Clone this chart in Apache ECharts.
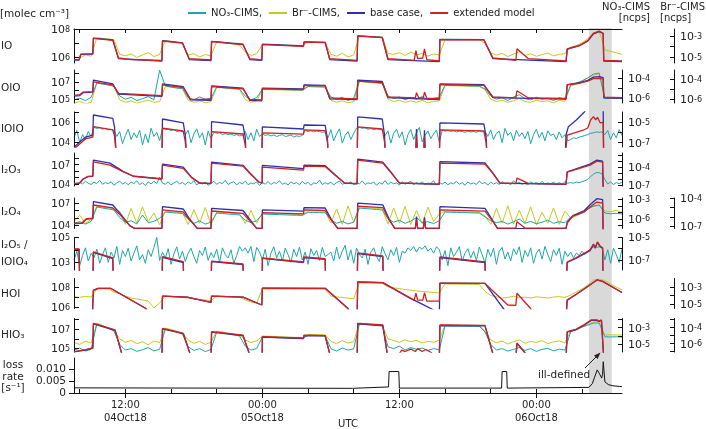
<!DOCTYPE html>
<html><head><meta charset="utf-8">
<script src="https://cdn.jsdelivr.net/npm/echarts@6/dist/echarts.min.js"></script>
<style>html,body{margin:0;padding:0;background:#fff}#c{width:706px;height:429px}</style>
</head><body><div id="c"></div>
<script>
// ---------- time (hours since 04 Oct 2018 00:00 UTC) ----------
const tm = [7.5,8,8.5,9,9.5,10,10.5,11,11.5,12,12.5,13,13.5,14,14.5,15,15.5,16,16.5,17,17.5,18,18.5,19,19.5,20,20.5,21,21.5,22,22.5,23,23.5,24,24.5,25,25.5,26,26.5,27,27.5,28,28.5,29,29.5,30,30.5,31,31.5,32,32.5,33,33.5,34,34.5,35,35.5,36,36.5,37,37.5,38,38.5,39,39.5,40,40.5,41,41.5,42,42.5,43,43.5,44,44.5,45,45.5,46,46.5,47,47.5,48,48.5,49,49.5,50,50.5,51,51.5,52,52.5,53,53.5,54,54.5,55,55.5];
const tq = [7.5,7.75,8,8.25,8.5,8.75,9,9.25,9.5,9.75,10,10.25,10.5,10.75,11,11.25,11.5,11.75,12,12.25,12.5,12.75,13,13.25,13.5,13.75,14,14.25,14.5,14.75,15,15.25,15.5,15.75,16,16.25,16.5,16.75,17,17.25,17.5,17.75,18,18.25,18.5,18.75,19,19.25,19.5,19.75,20,20.25,20.5,20.75,21,21.25,21.5,21.75,22,22.25,22.5,22.75,23,23.25,23.5,23.75,24,24.25,24.5,24.75,25,25.25,25.5,25.75,26,26.25,26.5,26.75,27,27.25,27.5,27.75,28,28.25,28.5,28.75,29,29.25,29.5,29.75,30,30.25,30.5,30.75,31,31.25,31.5,31.75,32,32.25,32.5,32.75,33,33.25,33.5,33.75,34,34.25,34.5,34.75,35,35.25,35.5,35.75,36,36.25,36.5,36.75,37,37.25,37.5,37.75,38,38.25,38.5,38.75,39,39.25,39.5,39.75,40,40.25,40.5,40.75,41,41.25,41.5,41.75,42,42.25,42.5,42.75,43,43.25,43.5,43.75,44,44.25,44.5,44.75,45,45.25,45.5,45.75,46,46.25,46.5,46.75,47,47.25,47.5,47.75,48,48.25,48.5,48.75,49,49.25,49.5,49.75,50,50.25,50.5,50.75,51,51.25,51.5,51.75,52,52.25,52.5,52.75,53,53.25,53.5,53.75,54,54.25,54.5,54.75,55,55.25,55.5];
const xTickHours = [12,24,36,48];
const xTickText = ['12:00\n04Oct18','00:00\n05Oct18','12:00','00:00\n06Oct18'];
const xMinorHours = [8,12,16,20,24,28,32,36,40,44,48,52];
const grayBand = [52.6,54.6];

// ---------- IO ----------
const ioBr = [1.1e-5,8e-6,1.6e-5,1.2e-5,7e-4,6e-4,5.2e-4,4.5e-4,1.8e-5,1.3e-5,
2e-5,9e-6,1.6e-5,2.6e-5,1.1e-5,1.8e-5,3.8e-4,3.2e-4,2.7e-4,2.2e-4,
1.6e-5,2.1e-5,1e-5,1.7e-5,1.3e-5,2.9e-4,2.5e-4,2.1e-4,1.7e-4,1.4e-4,
3e-5,1.4e-5,2.1e-5,1.55e-4,1.5e-4,1.45e-4,1.4e-4,1.35e-4,1.3e-4,1.25e-4,
1.2e-4,2.9e-4,2.8e-4,2.7e-4,2.6e-4,1.8e-5,1.2e-5,2.3e-5,1e-5,1.6e-5,
1e-3,9.5e-4,9e-4,8.5e-4,8e-4,2.2e-5,1.8e-5,2.6e-5,1.4e-5,3e-5,
1.6e-5,2.2e-5,1.2e-5,2e-5,1.5e-5,4.8e-4,4.7e-4,4.6e-4,4.6e-4,4.5e-4,
4.5e-4,4.4e-4,2e-4,2.5e-5,1.5e-5,2.2e-5,1.1e-5,1.9e-5,3.2e-5,1.4e-5,
2e-5,1.2e-5,1.7e-5,2.4e-5,1.3e-5,1.8e-5,2.1e-5,9e-5,1.2e-4,2.2e-4,
5.5e-4,2e-3,3e-3,4.7e-5,3.5e-5,2.5e-5,1.8e-5];
const ioExt = [[7.5,7e5],[7.95,7e5],[8.1,1.7e6],[9.15,1.8e6],[9.2,2.2e7],[10.9,1.6e7],[11.4,9e5],[12.5,7e5],[15.2,6e5],[15.25,1.4e7],[17.0,1.0e7],[17.6,8e5],[19.5,6.5e5],[19.55,1.3e7],[22.3,8e6],[22.9,8e5],[23.95,6.5e5],[24.0,8e6],[27.6,6e6],[27.65,1.2e7],[29.5,1.1e7],[29.9,8e5],[32.3,6e5],[32.35,3.2e7],[34.5,2.5e7],[35.0,8e5],[37.3,6e5],[37.45,3e6],[37.6,8e5],[38.05,9e5],[38.2,4e6],[38.4,7e5],[39.5,5.5e5],[39.55,1.8e7],[43.4,1.7e7],[44.2,9e5],[46.2,6e5],[46.3,4e6],[47.3,8e5],[50.6,5.5e5],[50.7,4e6],[51.8,7e6],[52.5,1.5e7],[53.0,5e7],[53.5,7e7],[53.85,5e7],[53.9,6e5],[55.5,5.5e5]];
const ioBase = [[7.5,6.5e5],[7.95,6.5e5],[8.1,1.6e6],[9.15,1.7e6],[9.2,2.3e7],[10.9,1.7e7],[11.4,8e5],[15.2,5.5e5],[15.25,1.5e7],[17.0,1.05e7],[17.6,7e5],[19.5,6e5],[19.55,1.35e7],[22.3,8.5e6],[22.9,7e5],[23.95,6e5],[24.0,8.5e6],[27.6,6.3e6],[27.65,1.25e7],[29.5,1.15e7],[29.9,7e5],[32.3,5.5e5],[32.35,3.3e7],[34.5,2.6e7],[35.0,7e5],[39.5,5e5],[39.55,1.85e7],[43.4,1.75e7],[44.2,8e5],[50.6,5e5],[50.7,3.8e6],[51.8,6.8e6],[52.5,1.4e7],[53.0,4.5e7],[53.5,6.5e7],[53.85,4.8e7],[53.9,5.5e5],[55.5,5e5]];

// ---------- OIO ----------
const oioNO3 = [6e-7,9e-7,5e-7,1.1e-6,3.3e-5,2.6e-5,2e-5,1.6e-5,1.5e-6,7e-7,
1.1e-6,5e-7,8e-7,1.3e-6,6e-7,7e-4,1.6e-5,1.25e-5,1e-5,8.9e-6,
1e-6,6e-7,1.2e-6,7e-7,9e-7,1.25e-5,1.1e-5,1e-5,8.9e-6,7.8e-6,
1.4e-6,6e-7,1e-6,7.8e-6,7.5e-6,7.2e-6,7e-6,6.8e-6,6.5e-6,6.3e-6,
6.2e-6,1.4e-5,1.35e-5,1.3e-5,1.25e-5,1.2e-6,7e-7,1.1e-6,5e-7,9e-7,
5.3e-5,4.7e-5,4.2e-5,3.7e-5,3.3e-5,1.5e-6,8e-7,1.2e-6,6e-7,1e-6,
7e-7,1.3e-6,6e-7,9e-7,1.1e-6,2e-5,1.9e-5,1.85e-5,1.8e-5,1.7e-5,
1.65e-5,1.6e-5,8e-6,1.5e-6,7e-7,1e-6,5e-7,1.2e-6,2e-6,8e-7,
6e-7,1.1e-6,7e-7,9e-7,5e-7,1e-6,7e-7,2e-5,3.3e-5,5.3e-5,
1.1e-4,2.8e-4,3.5e-4,8.5e-7,9e-7,8e-7,8.5e-7];
const oioBr = [4e-7,6e-7,3.5e-7,5e-7,4.3e-5,3.4e-5,2.7e-5,2.1e-5,9e-7,5e-7,
7e-7,4e-7,6e-7,8e-7,5e-7,6e-7,1.9e-5,1.7e-5,1.35e-5,1.1e-5,
8e-7,5e-7,7e-7,4.5e-7,6e-7,1.55e-5,1.4e-5,1.2e-5,1.1e-5,1e-5,
9e-7,5e-7,7e-7,9.5e-6,9.2e-6,9e-6,8.7e-6,8.5e-6,8.2e-6,8e-6,
7.8e-6,1.9e-5,1.85e-5,1.8e-5,1.75e-5,8e-7,5e-7,7e-7,4.5e-7,6e-7,
6e-5,5.4e-5,4.8e-5,4.3e-5,3.8e-5,1e-6,6e-7,8e-7,5e-7,7e-7,
5e-7,8e-7,4.5e-7,6e-7,7e-7,2.4e-5,2.3e-5,2.2e-5,2.1e-5,2e-5,
1.95e-5,1.9e-5,9e-6,1e-6,6e-7,8e-7,5e-7,7e-7,1.2e-6,6e-7,
5e-7,8e-7,6e-7,7e-7,4.5e-7,8e-7,6e-7,2.1e-5,3.4e-5,6.8e-5,
1.35e-4,2.7e-4,3.4e-4,1.4e-6,1.2e-6,1.3e-6,1.1e-6];
const oioExt = [[7.5,3e5],[8.0,3.5e5],[8.3,7e5],[9.15,8e5],[9.2,1.0e7],[10.9,4.5e6],[11.4,5e5],[15.2,2.7e5],[15.25,4.5e6],[17.07,2.3e6],[17.7,1.1e5],[19.5,1e5],[19.55,3e6],[22.3,1.6e6],[22.9,1e5],[23.95,9e4],[24.0,1.7e6],[27.6,1.3e6],[27.65,4e6],[29.5,3.5e6],[29.9,1.5e5],[32.3,1.2e5],[32.35,1.2e7],[34.5,8e6],[35.0,2e5],[37.4,1.5e5],[37.5,6e5],[37.7,1.5e5],[38.1,1.6e5],[38.2,7e5],[38.4,1.4e5],[39.5,1.2e5],[39.55,5e6],[43.4,4e6],[44.2,2e5],[46.2,1.5e5],[46.3,1e6],[47.3,1.5e5],[50.6,1.3e5],[50.7,4.5e6],[51.8,7e6],[52.5,1.2e7],[53.0,2.3e7],[53.5,2.5e7],[53.85,2e7],[53.9,1.8e5],[55.5,1.6e5]];
const oioBase = [[7.5,2.5e5],[8.0,2.8e5],[8.3,6e5],[9.15,7e5],[9.2,1.6e7],[10.9,6e6],[11.4,4e5],[15.2,2.2e5],[15.25,5.8e6],[17.07,2.8e6],[17.7,9e4],[19.5,8e4],[19.55,3.4e6],[22.3,2e6],[22.9,8e4],[23.95,7e4],[24.0,2e6],[27.6,1.6e6],[27.65,4.5e6],[29.5,4e6],[29.9,1.2e5],[32.3,1e5],[32.35,1.6e7],[34.5,1.1e7],[35.0,1.6e5],[39.5,1e5],[39.55,5.8e6],[43.4,5e6],[44.2,1.6e5],[50.6,1.1e5],[50.7,5e6],[51.8,8e6],[52.5,1.5e7],[53.0,3.5e7],[53.5,4e7],[53.85,3e7],[53.9,1.5e5],[55.5,1.4e5]];

// ---------- IOIO (NO3-CIMS sampled every 15 min) ----------
const ioioNO3 = [3e-7,1.5e-6,1e-7,6e-7,2e-7,1.2e-6,4e-7,3e-6,2.4e-6,2.8e-6,
2e-6,2.5e-6,1.7e-6,2e-6,1.5e-6,4e-7,1.2e-6,8e-8,5e-7,2e-6,
2e-7,9e-7,3e-7,1.6e-6,6e-8,7e-7,1e-7,2.5e-6,4e-7,1e-6,
1.5e-7,2.4e-6,1.8e-6,2e-6,1.5e-6,1.8e-6,1.2e-6,1.4e-6,1.1e-6,6e-7,
1.6e-6,1e-7,7e-7,2.2e-6,3e-7,9e-7,6e-8,1.3e-6,2.5e-7,1e-6,
8e-7,9e-7,6e-7,7.5e-7,6e-7,7e-7,5e-7,6e-7,4.5e-7,5e-7,
1.3e-6,2e-7,9e-7,1.5e-7,2e-6,4e-7,7e-7,5e-7,6e-7,4.5e-7,
5.5e-7,4e-7,5e-7,6e-7,4e-7,4.5e-7,5.5e-7,3.5e-7,4.5e-7,4e-7,
5e-7,1.5e-6,1.2e-6,1.4e-6,1.1e-6,1.3e-6,1.2e-6,1e-6,1.1e-6,3e-7,
1.8e-6,1.5e-7,7e-7,2.2e-6,9e-8,5e-7,1.2e-6,2e-7,8e-7,2.6e-6,
3e-6,2.5e-6,2.7e-6,2e-6,2.3e-6,1.8e-6,2.2e-6,1.9e-6,1.7e-6,5e-7,
1.4e-6,9e-8,8e-7,2e-6,3e-7,1.1e-6,6e-8,6e-7,1.9e-6,2e-7,
9e-7,3e-6,1.2e-7,5e-7,1.4e-6,2.5e-7,7e-7,1.7e-6,1e-7,1.6e-6,
1.3e-6,1.5e-6,1.2e-6,1.4e-6,1.1e-6,1.3e-6,1.2e-6,1e-6,1.3e-6,1.1e-6,
1.2e-6,1e-6,1.3e-6,1.1e-6,1.2e-6,4e-7,1.7e-6,2e-7,8e-7,1.3e-6,
1e-7,2.4e-6,5e-7,1e-6,1.5e-7,1.6e-6,4e-7,9e-7,2.5e-7,1.2e-6,
8e-8,6e-7,2e-6,3e-7,1e-6,1.5e-7,1.4e-6,5e-7,7e-7,2e-7,
1.1e-6,3e-7,6e-7,1.5e-7,2e-7,3e-7,2.5e-7,3.5e-7,4e-7,5e-7,
6e-7,8e-7,9e-7,1.1e-6,1e-6,1.1e-6,6e-7,1.5e-6,2e-7,9e-7,
3e-7,1.8e-6,5e-7];
const ioioExt = [[7.5,2e3],[8.5,2e4],[9.15,3e4],[9.2,3.4e5],[10.9,1.6e5],[11.05,4e4],[11.25,1e2],[15.2,1e2],[15.25,2.5e5],[17.07,1.26e5],[17.25,1e4],[17.4,1e2],[19.5,1e2],[19.55,1.07e5],[22.3,6.3e4],[22.5,5e3],[22.6,1e2],[23.95,1e2],[24.0,8e4],[27.6,6e4],[27.65,1.6e5],[29.5,1.4e5],[29.7,1e4],[29.8,1e2],[32.3,1e2],[32.35,3.2e5],[34.5,2e5],[34.7,1e4],[34.8,1e2],[37.4,1e2],[37.5,5e4],[37.6,1e2],[38.1,1e2],[38.2,4e4],[38.3,1e2],[39.5,1e2],[39.55,1.6e5],[43.4,1.3e5],[43.6,8e3],[43.7,1e2],[50.5,1e2],[50.7,5e4],[52.1,1.5e5],[52.5,2.5e5],[52.75,1.6e6],[53.0,3.4e6],[53.2,1.6e6],[53.35,3e6],[53.6,8e5],[53.85,9e5],[53.9,1e2],[55.5,1e2]];
const ioioBase = [[7.5,3e3],[8.0,1e4],[8.5,3e4],[9.15,5e4],[9.2,5e6],[10.9,2.3e6],[11.05,3e5],[11.25,1e2],[15.2,1e2],[15.25,2e6],[17.07,8e5],[17.25,5e4],[17.4,1e2],[19.5,1e2],[19.55,1.07e6],[22.3,5e5],[22.5,3e4],[22.6,1e2],[23.95,1e2],[24.0,3.2e5],[27.6,2e5],[27.65,5e5],[29.5,4.5e5],[29.7,2e4],[29.8,1e2],[32.3,1e2],[32.35,3.2e6],[34.5,2e6],[34.7,5e4],[34.8,1e2],[37.4,1e2],[37.5,2e5],[37.6,1e2],[38.1,1e2],[38.2,1.5e5],[38.3,1e2],[39.5,1e2],[39.55,8e5],[43.4,6.3e5],[43.6,3e4],[43.7,1e2],[50.5,1e2],[50.6,5e4],[50.8,3.4e5],[51.5,1.6e6],[52.2,1e7],[52.5,3e7],[53.85,3e7],[53.9,1e2],[55.5,1e2]];

// ---------- I2O3 (NO3-CIMS every 15 min) ----------
const i2o3NO3 = [2e-7,1e-7,3e-7,1.5e-7,4e-7,2e-7,1.2e-7,3e-7,1.8e-7,6e-7,
1.3e-7,2.5e-7,1.6e-7,3.5e-7,9e-8,2.2e-7,4.5e-7,1.4e-7,2.8e-7,1.1e-7,
3e-7,1.7e-7,5e-7,1.2e-7,2.4e-7,8e-8,3.2e-7,1.5e-7,4e-7,1.8e-7,
1.9e-6,2e-7,1.3e-7,3.5e-7,1e-7,2.2e-7,4.2e-7,1.5e-7,2.7e-7,1.1e-7,
3.3e-7,1.6e-7,5.5e-7,1e-7,2.5e-7,1.4e-7,3e-7,9e-8,2e-7,4e-7,
1.3e-7,2.6e-7,1.7e-7,6e-7,1.2e-7,2.3e-7,3.6e-7,1e-7,2.8e-7,1.5e-7,
4.5e-7,1.1e-7,2.2e-7,1.6e-7,3.2e-7,8e-8,2.4e-7,1.4e-7,3.8e-7,1.2e-7,
2.6e-7,1.8e-7,5e-7,1.3e-7,2.2e-7,1e-7,3.4e-7,1.6e-7,2.5e-7,1.1e-7,
4e-7,1.5e-7,2.8e-7,9e-8,2.2e-7,1.7e-7,6.5e-7,1.2e-7,2.4e-7,1.4e-7,
3e-7,1e-7,2.6e-7,4.4e-7,1.3e-7,2e-7,1.6e-7,3.5e-7,1.1e-7,2.7e-7,
1.5e-7,4.8e-7,1.2e-7,2.3e-7,1.7e-7,3.1e-7,9e-8,2.5e-7,1.4e-7,5.5e-7,
1.2e-7,2.9e-7,1.6e-7,2.2e-7,1e-7,3.6e-7,1.3e-7,2.4e-7,4.2e-7,1.1e-7,
2.6e-7,1.5e-7,3.3e-7,1.2e-7,2e-7,1.8e-7,5e-7,1e-7,2.7e-7,1.4e-7,
3e-7,1.1e-7,2.3e-7,1.6e-7,4e-7,1.3e-7,2.5e-7,9e-8,3.2e-7,1.5e-7,
2.2e-7,1.2e-7,4.6e-7,1.7e-7,2.6e-7,1e-7,3e-7,1.4e-7,2.4e-7,1.2e-7,
3.7e-7,1.5e-7,2.1e-7,1.1e-7,5.2e-7,1.6e-7,2.8e-7,1.3e-7,2.3e-7,1e-7,
3.4e-7,1.8e-7,2.5e-7,1.2e-7,4.3e-7,1.4e-7,2.2e-7,1.6e-7,3e-7,1.1e-7,
2.6e-7,1.3e-7,3.5e-7,2e-7,2.5e-7,2e-7,3e-7,2.5e-7,3.5e-7,5e-7,
9e-7,2.5e-6,6e-6,1.2e-5,1.1e-5,7e-6,8e-7,1.5e-7,3e-7,1.2e-7,
2.5e-7,1.6e-7,3.2e-7];
const i2o3Ext = [[7.5,1.2e4],[8.0,1.5e4],[8.3,6e4],[8.7,1.5e5],[9.15,1.7e5],[9.2,2.7e7],[10.65,8.5e6],[11.8,8e5],[12.7,1.7e5],[15.2,6.6e4],[15.25,8.5e6],[17.07,2.6e6],[17.8,1e5],[18.5,1.5e4],[19.5,1.3e4],[19.55,1.7e7],[22.3,6e6],[23.0,3e5],[23.7,2e4],[23.98,1.5e4],[24.0,4.2e6],[27.6,1.45e6],[27.65,6e6],[29.5,5e6],[30.3,3e5],[31.2,1.5e4],[32.3,1.2e4],[32.35,5e7],[34.55,1.7e7],[35.3,5e5],[36.0,1.5e4],[39.5,1e4],[39.55,1.7e7],[43.5,1.2e7],[44.2,4e5],[44.8,1.5e4],[46.2,1.2e4],[46.3,8.5e4],[47.3,1.3e4],[50.6,1e4],[50.7,7e5],[52.7,8.5e6],[53.3,3.5e7],[53.8,2.5e7],[53.85,1e3],[55.5,1e3]];
const i2o3Base = [[7.5,1.1e4],[8.0,1.4e4],[8.3,5.5e4],[8.7,1.4e5],[9.15,1.6e5],[9.2,5e7],[10.65,1.7e7],[11.8,9e5],[12.7,1.6e5],[15.2,6e4],[15.25,1.2e7],[17.07,4.2e6],[17.8,1.1e5],[18.5,1.4e4],[19.5,1.2e4],[19.55,2.5e7],[22.3,8e6],[23.0,3.5e5],[23.7,2e4],[23.98,1.4e4],[24.0,8e6],[27.6,2.5e6],[27.65,8e6],[29.5,7e6],[30.3,3.5e5],[31.2,1.4e4],[32.3,1.1e4],[32.35,7e7],[34.55,2.5e7],[35.3,6e5],[36.0,1.4e4],[39.5,9e3],[39.55,3e7],[43.5,1.8e7],[44.2,5e5],[44.8,1.4e4],[50.6,9e3],[50.7,8e5],[52.7,1.2e7],[53.3,5e7],[53.8,3.5e7],[53.85,1e3],[55.5,1e3]];

// ---------- I2O4 ----------
const i2o4NO3 = [2e-7,3.5e-7,1.5e-7,4e-7,6.5e-5,4.5e-5,3.2e-5,2.2e-5,1.5e-6,3e-7,
5e-7,1.6e-7,3.8e-6,2.5e-7,4e-7,1.2e-6,1.1e-5,9e-6,7.6e-6,6.5e-6,
8e-7,2e-7,4.5e-7,1.5e-7,3e-7,7.6e-6,6.5e-6,5.4e-6,4.6e-6,3.8e-6,
6e-7,2.5e-7,5e-7,5.4e-6,5e-6,4.6e-6,4.3e-6,4e-6,3.7e-6,3.5e-6,
3.3e-6,1e-5,9.5e-6,9e-6,8.5e-6,7e-7,2e-7,4e-7,1.6e-7,3e-7,
4.5e-5,3.8e-5,3.2e-5,2.7e-5,2.2e-5,1e-6,3e-7,6e-7,2e-7,4.5e-7,
1.5e-6,2.5e-7,3.5e-7,1.8e-7,5e-7,1.1e-5,1e-5,9.5e-6,9e-6,8.5e-6,
8e-6,7.6e-6,2e-6,5e-7,2.5e-7,4e-7,1.5e-7,3.5e-7,9e-7,2e-7,
4e-7,1.7e-7,3e-7,6e-7,2e-7,3.5e-7,2.5e-7,1.9e-6,3.8e-6,7.6e-6,
3.2e-5,9e-5,1.3e-4,7.6e-6,6e-6,7e-6,5.5e-6];
const i2o4Br = [3e-7,1.5e-6,2e-7,5e-7,1.4e-5,1.1e-5,9e-6,7e-6,4e-6,1.5e-7,
8e-6,2e-7,1.2e-5,3e-7,2.5e-6,1.4e-7,4e-6,3.5e-6,3e-6,2.6e-6,
1.5e-7,6e-6,2e-7,1e-5,1.3e-7,3.3e-6,3e-6,2.6e-6,2.3e-6,2e-6,
1.8e-7,5e-6,2e-7,2.6e-6,2.4e-6,2.2e-6,2.1e-6,2e-6,1.9e-6,1.8e-6,
1.6e-6,4.5e-6,4.4e-6,4.3e-6,4.2e-6,2e-7,7e-6,1.5e-7,1.5e-5,2.5e-7,
1.2e-5,1e-5,9e-6,8e-6,7e-6,1.6e-7,9e-6,2e-7,1.3e-5,1.4e-7,
5e-6,1.8e-7,1.1e-5,3e-7,2e-6,4e-6,3.8e-6,3.6e-6,3.4e-6,3.2e-6,
3.1e-6,3e-6,1.2e-6,1.5e-7,8e-6,2e-7,1.5e-5,1.6e-7,5e-6,2e-7,
1.2e-5,1.4e-7,3e-6,2e-7,9e-6,1.5e-7,4e-6,7.4e-7,1.2e-6,2.6e-6,
7e-6,1.4e-5,1.9e-5,4.3e-6,3.5e-6,5e-6,3e-6];
const i2o4Ext = [[7.5,1.8e4],[8.2,2e4],[8.6,8e4],[9.15,9e4],[9.2,5.6e6],[10.9,2.2e6],[11.6,2e5],[12.4,8e3],[12.8,4e3],[15.2,4e3],[15.25,1.2e6],[17.07,6.3e5],[17.6,6e4],[18.3,4e3],[19.5,4e3],[19.55,8.5e5],[22.3,4e5],[22.9,4e4],[23.5,4e3],[23.98,4e3],[24.0,5e5],[27.6,3.5e5],[27.65,1.2e6],[29.5,1e6],[30.0,6e4],[30.6,4e3],[32.3,4e3],[32.35,4e6],[34.55,2.5e6],[35.1,5e4],[35.6,4e3],[37.4,4e3],[37.5,6e4],[37.6,4e3],[38.1,4e3],[38.2,5e4],[38.3,4e3],[39.5,4e3],[39.55,1.2e6],[43.5,8e5],[44.1,5e4],[44.6,4e3],[46.2,4e3],[46.3,3e4],[47.0,4e3],[50.6,4e3],[50.7,2e4],[51.2,1.7e5],[52.2,6.3e5],[52.7,3e6],[53.3,1.4e7],[53.8,1e7],[53.85,1e3],[55.5,1e3]];
const i2o4Base = [[7.5,1.6e4],[8.2,1.8e4],[8.6,7e4],[9.15,8e4],[9.2,1.6e7],[10.9,5.6e6],[11.6,3e5],[12.4,8e3],[12.8,3.5e3],[15.2,3.5e3],[15.25,3.3e6],[17.07,1.6e6],[17.6,8e4],[18.3,3.5e3],[19.5,3.5e3],[19.55,2e6],[22.3,1e6],[22.9,6e4],[23.5,3.5e3],[23.98,3.5e3],[24.0,1.2e6],[27.6,8e5],[27.65,2.5e6],[29.5,2.2e6],[30.0,8e4],[30.6,3.5e3],[32.3,3.5e3],[32.35,1e7],[34.55,6e6],[35.1,7e4],[35.6,3.5e3],[37.4,3.5e3],[37.5,1.5e5],[37.6,3.5e3],[38.1,3.5e3],[38.2,1.2e5],[38.3,3.5e3],[39.5,3.5e3],[39.55,3.3e6],[43.5,2e6],[44.1,7e4],[44.6,3.5e3],[50.6,3.5e3],[50.7,2.5e4],[51.2,2e5],[52.2,1e6],[52.7,6e6],[53.3,4e7],[53.8,3e7],[53.85,1e3],[55.5,1e3]];

// ---------- I2O5 / IOIO4 (NO3-CIMS every 15 min) ----------
const i2o5NO3 = [1e-7,6e-7,3e-8,2.5e-7,1.2e-6,8e-8,4e-7,1.5e-7,9e-7,5e-8,
3e-7,1.2e-6,6e-8,5e-7,1.5e-7,1.6e-6,4e-8,7e-7,2e-7,1.1e-6,
8e-8,4e-7,1.8e-6,1e-7,3e-7,5e-8,8e-7,2e-7,1.3e-6,1e-5,
9e-8,5e-7,1.5e-7,1e-6,4e-8,3.5e-7,1.5e-6,1.2e-7,6e-7,7e-8,
4e-7,1.1e-6,2e-7,5e-8,7e-7,2.5e-7,1.4e-6,9e-8,4.5e-7,1.6e-7,
9e-7,6e-8,1.2e-6,3e-7,1.5e-7,8e-7,5e-8,2.5e-7,1.6e-6,6e-7,
1.2e-6,4e-7,1.6e-6,7e-8,1.3e-6,5e-7,1e-7,9e-7,3e-8,4e-7,
1.5e-6,1.5e-7,6e-7,8e-8,1.1e-6,3e-7,6e-8,9e-7,2e-7,1.4e-6,
1e-7,5e-7,4e-8,1e-6,2.5e-7,7e-7,9e-8,1.3e-6,2e-7,3e-7,
5e-7,8e-8,1.4e-6,1.2e-7,6e-7,2e-6,1e-7,8e-7,5e-8,1.1e-6,
3e-7,1.5e-7,9e-7,4e-8,5e-7,1.2e-6,2e-7,7e-8,1.5e-6,3.5e-7,
1e-7,8e-7,2.5e-7,1.3e-6,6e-8,6e-7,4e-7,1.2e-6,7e-7,1.6e-6,
5e-7,1.4e-6,9e-7,1.8e-6,6e-7,1.1e-6,4e-7,1.5e-6,8e-7,1e-7,
7e-7,3e-8,1.2e-6,2e-7,5e-7,1.5e-6,8e-8,4e-7,1e-6,1.5e-7,
6e-7,9e-8,1.4e-6,3e-7,5e-8,9e-7,2e-7,1.1e-6,4e-8,6e-7,
1.3e-6,1.2e-7,5e-7,8e-8,1e-6,3e-7,1.5e-6,6e-8,7e-7,2e-7,
1.2e-6,5e-8,4e-7,9e-7,1.2e-7,1.6e-6,3e-7,7e-8,8e-7,2.5e-7,
1.1e-6,4e-8,6e-7,2e-7,5e-7,1.5e-7,4e-7,2.5e-7,6e-7,3e-7,
6e-7,1e-6,1.4e-6,1.3e-6,1.5e-6,1.2e-6,1e-7,8e-7,5e-8,1.1e-6,
3e-7,6e-8,9e-7];
const i2o5Ext = [[7.5,1.2e4],[7.95,1.2e4],[8.0,10],[9.15,10],[9.2,7.2e3],[10.9,2.3e3],[10.95,10],[15.2,10],[15.25,2.9e3],[17.07,1.15e3],[17.12,10],[19.5,10],[19.55,1.3e3],[22.3,760],[22.35,10],[23.98,10],[24.0,2.3e3],[27.6,1.1e3],[27.65,2.8e3],[29.5,2e3],[29.55,10],[32.3,10],[32.35,5.8e3],[34.55,3.3e3],[34.6,10],[39.5,10],[39.55,2.8e3],[43.5,1.1e3],[43.55,10],[50.6,10],[50.7,1.1e3],[51.5,2.5e3],[52.7,1e4],[53.0,3e4],[53.15,1.5e4],[53.35,4.4e4],[53.6,2e4],[53.8,1.5e4],[53.85,10],[55.5,10]];
const i2o5Base = [[7.5,1.1e4],[7.95,1.1e4],[8.0,10],[9.15,10],[9.2,6.5e3],[10.9,2e3],[10.95,10],[15.2,10],[15.25,2.6e3],[17.07,1e3],[17.12,10],[19.5,10],[19.55,1.2e3],[22.3,680],[22.35,10],[23.98,10],[24.0,2.1e3],[27.6,1e3],[27.65,2.5e3],[29.5,1.8e3],[29.55,10],[32.3,10],[32.35,5.2e3],[34.55,3e3],[34.6,10],[39.5,10],[39.55,2.5e3],[43.5,1e3],[43.55,10],[50.6,10],[50.7,1e3],[51.5,2.2e3],[52.7,9e3],[53.0,2.7e4],[53.15,1.4e4],[53.35,4e4],[53.6,1.8e4],[53.8,1.4e4],[53.85,10],[55.5,10]];

// ---------- HOI ----------
const hoiBr = [7e-5,6e-5,8e-5,6.5e-5,5.8e-4,5.9e-4,5.7e-4,2.6e-4,1.5e-4,8.7e-5,
5.1e-5,3.9e-5,3e-5,2.2e-5,3.5e-6,1.3e-5,8.7e-5,7.6e-5,6.6e-5,5.8e-5,
5e-5,3.9e-5,3.4e-5,3e-5,2.6e-5,8.7e-5,8e-5,7.6e-5,7e-5,6.6e-5,
3e-5,1.7e-5,1.3e-5,5.8e-4,5.9e-4,5.7e-4,5.8e-4,5.6e-4,5.7e-4,5.5e-4,
5.6e-4,5.5e-4,5.4e-4,5.5e-4,5.3e-4,8.7e-5,7e-5,5.8e-5,5e-5,4.2e-5,
3e-3,2.9e-3,2.8e-3,2.8e-3,2.7e-3,1e-3,8e-4,6.5e-4,5e-4,4.2e-4,
3.5e-4,3e-4,2.6e-4,2.3e-4,2e-4,2.3e-3,2.2e-3,2.2e-3,2.1e-3,2.1e-3,
2e-3,2e-3,3e-4,1e-4,7e-5,5e-5,6e-5,8e-5,5.5e-5,6.5e-5,
5e-5,7e-5,6e-5,5e-5,6.5e-5,7.5e-5,6e-5,1.1e-4,2.6e-4,5.8e-4,
1.7e-3,6.6e-3,8.6e-3,5.8e-3,2.2e-3,1e-3,4.5e-4];
const hoiExt = [[7.5,1e5],[9.1,1e5],[9.2,5e7],[9.6,8e7],[10.7,8e7],[13.8,7e5],[14.0,1e5],[15.2,1e5],[15.25,1.3e7],[17.4,1e7],[19.5,3e6],[19.55,1.3e7],[22.3,1e7],[23.95,1.6e6],[24.0,8.5e7],[29.5,8e7],[31.5,7e5],[31.7,1e5],[32.3,1e5],[32.35,3.5e8],[34.55,3e8],[37.3,5e6],[37.45,2.5e7],[37.6,5e6],[38.05,5e6],[38.2,2.8e7],[38.4,4e6],[39.5,4e6],[39.55,2.7e8],[43.5,2.5e8],[45.5,1.6e6],[46.2,1.5e6],[46.3,2.5e7],[47.5,7e5],[47.7,1e5],[50.6,1e5],[50.7,5e6],[51.5,2e7],[52.5,1.2e8],[53.3,5.6e8],[53.8,4e8],[55.5,3e7]];
const hoiBase = [[7.5,1e5],[9.1,1e5],[9.2,5e7],[9.6,8e7],[10.7,8e7],[13.8,7e5],[14.0,1e5],[15.2,1e5],[15.25,1.3e7],[17.4,1e7],[19.5,3e6],[19.55,1.3e7],[22.3,1e7],[23.95,1.6e6],[24.0,8.5e7],[29.5,8e7],[31.5,7e5],[31.7,1e5],[32.3,1e5],[32.35,3.5e8],[34.55,3e8],[37.0,7e6],[38.0,2e6],[39.0,5e5],[39.5,2e5],[39.55,2.7e8],[43.5,2.5e8],[45.2,5e5],[45.5,1e5],[50.6,1e5],[50.7,5e6],[51.5,2e7],[52.5,1.2e8],[53.3,5.6e8],[53.8,4e8],[55.5,3e7]];

// ---------- HIO3 ----------
const hio3NO3 = [2e-6,3.5e-6,1.5e-6,2.5e-6,2.8e-3,1.6e-3,7.9e-4,4e-4,1e-5,2e-6,
3e-6,1.4e-6,2.2e-6,4e-6,1.6e-6,2.5e-6,7e-4,4.6e-4,3e-4,1.7e-4,
5e-6,1.8e-6,3e-6,1.3e-6,2.4e-6,3e-4,2.3e-4,1.7e-4,1.3e-4,1e-4,
6e-6,2e-6,3e-6,7.6e-5,7e-5,6.5e-5,6e-5,5.8e-5,5.5e-5,5.2e-5,
5e-5,1.2e-4,1.15e-4,1.1e-4,1.05e-4,3e-6,1.5e-6,3.5e-6,2e-6,2.8e-6,
2.8e-3,2.4e-3,2.1e-3,1.8e-3,1.6e-3,5e-6,3e-6,6e-6,2e-6,4e-6,
2.5e-6,3.5e-6,1.8e-6,3e-6,2.2e-6,1.7e-3,1.6e-3,1.6e-3,1.55e-3,1.5e-3,
1.5e-3,1.45e-3,3e-4,1e-5,2e-6,3e-6,1.5e-6,2.5e-6,4e-6,1.8e-6,
3e-6,1.4e-6,2.4e-6,3.2e-6,1.6e-6,2.6e-6,2e-6,3e-4,6e-4,1.2e-3,
2e-3,3.6e-3,3.6e-3,8e-5,7.6e-5,8e-5,7.5e-5];
const hio3Br = [1.5e-6,8e-7,2e-6,1.2e-6,3.8e-4,1.9e-4,9e-5,4.5e-5,4e-6,1.5e-6,
2.5e-6,1e-6,1.8e-6,7e-7,2.2e-6,1.3e-6,9e-5,5.9e-5,3.8e-5,2.1e-5,
3e-6,1.1e-6,2e-6,8e-7,1.5e-6,3.8e-5,2.9e-5,2.1e-5,1.6e-5,1.2e-5,
3e-6,1.4e-6,2.2e-6,9e-6,8.5e-6,8e-6,7.5e-6,7e-6,6.6e-6,6.2e-6,
5.9e-6,1.4e-5,1.4e-5,1.35e-5,1.3e-5,2e-6,1e-6,2.4e-6,1.2e-6,1.8e-6,
3.8e-4,3.3e-4,2.8e-4,2.4e-4,2.1e-4,4e-6,2.5e-6,1.5e-6,3e-6,1.8e-6,
2.6e-6,1.2e-6,2e-6,1.5e-6,2.8e-6,2.1e-4,2.1e-4,2.05e-4,2e-4,2e-4,
1.95e-4,1.9e-4,4e-5,3e-6,1.3e-6,2.2e-6,9e-7,1.8e-6,3e-6,1.1e-6,
2e-6,1.4e-6,2.5e-6,1e-6,1.7e-6,2.2e-6,1.3e-6,3.8e-5,6e-5,1.2e-4,
2.5e-4,5.1e-4,6.8e-4,1.2e-5,1.3e-5,1.2e-5,1.25e-5];
const hio3Ext = [[7.5,5e4],[8.5,8e4],[9.15,1.2e5],[9.2,4e7],[11.1,8.3e6],[11.8,1e4],[15.2,1e4],[15.25,1.2e7],[17.07,3.8e6],[17.8,1e4],[19.5,1e4],[19.55,5.5e6],[22.3,2.5e6],[23.0,1e4],[23.98,1e4],[24.0,1.7e6],[27.6,1.2e6],[27.65,2.5e6],[29.5,2.2e6],[30.0,1e4],[32.3,1e4],[32.35,4e7],[34.55,2.7e7],[35.0,1e4],[36.0,3e4],[36.2,7e4],[36.5,5e4],[37.0,9e4],[37.4,5e4],[37.6,1e5],[38.0,5e4],[38.3,8e4],[38.8,4e4],[39.1,1e4],[39.5,1e4],[39.55,2.7e7],[43.5,2.5e7],[44.3,1e4],[46.2,1e4],[46.3,3.8e5],[47.4,1e4],[50.6,1e4],[50.7,5.5e6],[51.5,1e7],[52.2,3e7],[52.8,9e7],[53.3,9e7],[53.5,7e7],[53.7,9e7],[53.85,6e7],[53.9,1e4],[55.5,1e4]];
const hio3Base = [[7.5,4.5e4],[8.5,7e4],[9.15,1.1e5],[9.2,3.6e7],[11.1,7.5e6],[11.8,1e4],[15.2,1e4],[15.25,1.1e7],[17.07,3.4e6],[17.8,1e4],[19.5,1e4],[19.55,5e6],[22.3,2.2e6],[23.0,1e4],[23.98,1e4],[24.0,1.5e6],[27.6,1.1e6],[27.65,2.2e6],[29.5,2e6],[30.0,1e4],[32.3,1e4],[32.35,3.6e7],[34.55,2.4e7],[35.0,1e4],[39.5,1e4],[39.55,2.4e7],[43.5,2.2e7],[44.3,1e4],[46.2,1e4],[46.3,3.4e5],[47.4,1e4],[50.6,1e4],[50.7,5e6],[51.5,9e6],[52.2,2.7e7],[52.8,8e7],[53.3,8e7],[53.5,6.3e7],[53.7,8e7],[53.85,5.4e7],[53.9,1e4],[55.5,1e4]];

// ---------- loss rate [s-1] ----------
const lossRate = [[7.5,0.0022],[31.9,0.002],[35.05,0.0026],[35.1,0.0092],[35.95,0.0092],[36.0,0.0021],[44.95,0.0021],[45.0,0.0092],[45.4,0.0092],[45.45,0.0021],[52.6,0.0024],[52.9,0.004],[53.1,0.0068],[53.33,0.0099],[53.5,0.0085],[53.72,0.0064],[53.8,0.008],[53.86,0.0134],[53.93,0.009],[54.0,0.0048],[54.3,0.0036],[54.7,0.0031],[55.3,0.0028],[55.5,0.0027]];

// ================= chart building =================
const FONT = 'DejaVu Sans';
const TXT = '#222';
const COL = {teal:'#1fa6a6', yel:'#c8c81c', blue:'#2f2fae', red:'#cc2222'};
const NAMES = ['NO\u2083-CIMS,','Br\u207B-CIMS,','base case,','extended model'];
const GL = 74, GR = 84;

const panels = [
 {top:29, h:34, L:[5.6,8], lt:[6,7,8], ll:[6,8], br:{r:[-5.57,-2.33],t:[-5,-4,-3],l:[-5,-3],d:ioBr}, ext:ioExt, base:ioBase},
 {top:70, h:33, L:[4.6,8.35], lt:[5,6,7,8], ll:[5,7], no3:{r:[-6.55,-3.14],t:[-6,-5,-4],l:[-6,-4],d:oioNO3}, br:{r:[-6.37,-3.07],t:[-6,-5,-4],l:[-6,-4],d:oioBr}, ext:oioExt, base:oioBase},
 {top:112, h:35, L:[3.5,7.0], lt:[4,5,6,7], ll:[4,6], no3:{r:[-7.42,-4.03],t:[-7,-6,-5],l:[-7,-5],d:ioioNO3,q:true}, ext:ioioExt, base:ioioBase},
 {top:153, h:33, L:[3.7,8.8], lt:[4,5,6,7,8], ll:[4,7], no3:{r:[-7.17,-1.67],t:[-7,-6,-5,-4,-3,-2],l:[-7,-4],d:i2o3NO3,q:true}, ext:i2o3Ext, base:i2o3Base},
 {top:198, h:30.5, L:[3.55,7.7], lt:[4,5,6,7], ll:[4,7], no3:{r:[-7.5,-2.8],t:[-7,-6,-5,-4,-3],l:[-6,-3],d:i2o4NO3}, br:{r:[-7.27,-3.97],t:[-7,-6,-5,-4],l:[-7,-4],d:i2o4Br}, ext:i2o4Ext, base:i2o4Base},
 {top:237.5, h:32.5, L:[2.4,5.0], lt:[3,4,5], ll:[3,5], no3:{r:[-7.9,-5.0],t:[-7,-6,-5],l:[-7,-5],d:i2o5NO3,q:true}, ext:i2o5Ext, base:i2o5Base},
 {top:278.5, h:30, L:[5.85,8.9], lt:[6,7,8], ll:[6,8], br:{r:[-5.53,-2.0],t:[-5,-4,-3],l:[-5,-3],d:hoiBr}, ext:hoiExt, base:hoiBase},
 {top:318.5, h:33.5, L:[4.65,8.1], lt:[5,6,7,8], ll:[5,7], no3:{r:[-5.93,-1.9],t:[-5,-4,-3,-2],l:[-5,-3],d:hio3NO3}, br:{r:[-7.04,-2.85],t:[-7,-6,-5,-4,-3],l:[-6,-4],d:hio3Br}, ext:hio3Ext, base:hio3Base}
];

const RICH = {
  b:{fontSize:11, fontFamily:FONT, color:TXT, lineHeight:13, padding:[5,0,0,0], verticalAlign:'bottom'},
  s:{fontSize:8, fontFamily:FONT, color:TXT, lineHeight:9, padding:[3,0,0,0], verticalAlign:'top'}
};
function supFmt(v){ const e = Math.round(Math.log10(v)); return '{b|10}{s|' + e + '}'; }
const p10 = e => Math.pow(10, e);

const grids = [], xAxes = [], yAxes = [], series = [];
const axLine = {show:true, onZero:false, lineStyle:{color:'#111', width:1}};

function logAxis(gi, range, ticks, labels, pos, offset, margin){
  return {type:'log', logBase:10, gridIndex:gi, position:pos, offset:offset, z:5,
    min:p10(range[0]), max:p10(range[1]),
    axisLine:axLine,
    axisTick:{show:true, inside:true, length:pos==='left'?5:4, customValues:ticks.map(p10), lineStyle:{color:'#111'}},
    axisLabel:{show:true, margin:margin, customValues:labels.map(p10), formatter:supFmt, rich:RICH},
    splitLine:{show:false}, minorTick:{show:false}};
}
function hiddenX(gi){ return {type:'value', gridIndex:gi, min:7.5, max:55.5, show:false}; }
function lineS(name, color, width, xi, yi, data, z){
  return {type:'line', name:name, xAxisIndex:xi, yAxisIndex:yi, data:data, showSymbol:false, symbol:'none',
    animation:false, silent:true, z:z, lineStyle:{color:color, width:width}, itemStyle:{color:color}};
}
const pair = arr => tm.map((t,i)=>[t, arr[i]]);
const pairQ = arr => tq.map((t,i)=>[t, arr[i]]);

panels.forEach((p, gi) => {
  grids.push({left:GL, right:GR, top:p.top, height:p.h, outerBoundsMode:'none'});
  const xi = xAxes.length;
  if (gi === 0) {
    xAxes.push({type:'value', gridIndex:gi, min:7.5, max:55.5, position:'top', z:5,
      axisLine:axLine, axisTick:{show:true, inside:true, length:4, customValues:xMinorHours, lineStyle:{color:'#111'}},
      axisLabel:{show:false}, splitLine:{show:false}});
  } else xAxes.push(hiddenX(gi));
  const yl = yAxes.length;
  yAxes.push(logAxis(gi, p.L, p.lt, p.ll, 'left', 0, 4));
  if (p.no3) {
    const yi = yAxes.length;
    yAxes.push(logAxis(gi, p.no3.r, p.no3.t, p.no3.l, 'right', 0, 6));
    series.push(lineS(NAMES[0], COL.teal, 1, xi, yi, p.no3.q ? pairQ(p.no3.d) : pair(p.no3.d), 3));
  }
  if (p.br) {
    const yi = yAxes.length;
    yAxes.push(logAxis(gi, p.br.r, p.br.t, p.br.l, 'right', 52, 6));
    series.push(lineS(NAMES[1], COL.yel, 1, xi, yi, pair(p.br.d), 2));
  }
  series.push(lineS(NAMES[2], COL.blue, 1.3, xi, yl, p.base, 4));
  series.push(lineS(NAMES[3], COL.red, 1.3, xi, yl, p.ext, 5));
});

// loss-rate panel
const gLoss = grids.length;
grids.push({left:GL, right:GR, top:358, height:35, outerBoundsMode:'none'});
const xLoss = xAxes.length;
xAxes.push({type:'value', gridIndex:gLoss, min:7.5, max:55.5, position:'bottom', z:5,
  axisLine:axLine,
  axisTick:{show:true, inside:false, length:5, customValues:xTickHours, lineStyle:{color:'#111'}},
  axisLabel:{show:true, margin:6, customValues:xTickHours, fontSize:10, fontFamily:FONT, color:TXT, lineHeight:13,
    formatter:v => xTickText[xTickHours.indexOf(Math.round(v))] || ''},
  name:'UTC', nameLocation:'middle', nameGap:26, nameMoveOverlap:false,
  nameTextStyle:{fontSize:10, fontFamily:FONT, color:TXT, verticalAlign:'top'},
  splitLine:{show:false}});
xAxes.push({type:'value', gridIndex:gLoss, min:7.5, max:55.5, position:'bottom', z:5,
  axisLine:{show:false}, axisTick:{show:true, inside:true, length:4, customValues:xMinorHours, lineStyle:{color:'#111'}},
  axisLabel:{show:false}, splitLine:{show:false}});
const yLoss = yAxes.length;
yAxes.push({type:'value', gridIndex:gLoss, min:0, max:0.015, position:'left', z:5,
  axisLine:axLine,
  axisTick:{show:true, inside:false, length:5, customValues:[0,0.005,0.01], lineStyle:{color:'#111'}},
  axisLabel:{show:true, margin:8, customValues:[0,0.005,0.01], fontSize:10.5, fontFamily:FONT, color:TXT,
    formatter:v => v === 0 ? '0' : v.toFixed(3)},
  splitLine:{show:false}});
series.push({type:'line', xAxisIndex:xLoss, yAxisIndex:yLoss, data:lossRate, showSymbol:false, symbol:'none',
  animation:false, silent:true, z:5, lineStyle:{color:'#111', width:1}});

// gray shaded band across all panels
const gBand = grids.length;
grids.push({left:GL, right:GR, top:28, height:365, outerBoundsMode:'none'});
const xBand = xAxes.length;
xAxes.push({type:'value', gridIndex:gBand, min:7.5, max:55.5, show:false});
const yBand = yAxes.length;
yAxes.push({type:'value', gridIndex:gBand, min:0, max:1, show:false});
series.push({type:'line', xAxisIndex:xBand, yAxisIndex:yBand, data:[], z:1, silent:true, animation:false,
  markArea:{silent:true, itemStyle:{color:'#d9d9d9'}, data:[[{xAxis:grayBand[0]},{xAxis:grayBand[1]}]]}});

function txt(x, y, text, extra){
  return Object.assign({type:'text', x:x, y:y, silent:true, z:10,
    style:Object.assign({text:text, fill:TXT, font:'10.5px "DejaVu Sans"', textVerticalAlign:'middle', verticalAlign:'middle'}, extra||{})});
}
const hdr = {font:'10px "DejaVu Sans"'};
const graphic = [
  txt(0, 14, '[molec cm\u207B\u00B3]'),
  txt(650, 7, 'NO\u2083-CIMS', Object.assign({textAlign:'right', align:'right'}, hdr)),
  txt(650, 18, '[ncps]', Object.assign({textAlign:'right', align:'right'}, hdr)),
  txt(705, 7, 'Br\u207B-CIMS', Object.assign({textAlign:'right', align:'right'}, hdr)),
  txt(660, 18, '[ncps]', hdr),
  txt(1, 46, 'IO'),
  txt(1, 88, 'OIO'),
  txt(1, 129, 'IOIO'),
  txt(1, 170, 'I\u2082O\u2083'),
  txt(1, 212, 'I\u2082O\u2084'),
  txt(1, 245, 'I\u2082O\u2085 /'),
  txt(1, 262, 'IOIO\u2084'),
  txt(1, 294, 'HOI'),
  txt(1, 335, 'HIO\u2083'),
  txt(13, 365, 'loss', {textAlign:'center', align:'center'}),
  txt(13, 377, 'rate', {textAlign:'center', align:'center'}),
  txt(13, 388.5, '[s\u207B\u00B9]', {textAlign:'center', align:'center'}),
  txt(538, 375, 'ill-defined'),
  {type:'line', silent:true, z:10, shape:{x1:585, y1:368, x2:598, y2:355}, style:{stroke:'#222', lineWidth:1}},
  {type:'polygon', silent:true, z:10, shape:{points:[[600.5,352.5],[597.6,359.0],[594.0,355.4]]}, style:{fill:'#222'}}
];

const chart = echarts.init(document.getElementById('c'), null, {renderer:'canvas'});
chart.setOption({
  animation:false,
  backgroundColor:'#fff',
  textStyle:{fontFamily:FONT, color:TXT},
  legend:{data:NAMES, left:183, top:3, icon:'rect', itemWidth:18, itemHeight:2, itemGap:7, selectedMode:false,
    textStyle:{fontSize:10, fontFamily:FONT, color:TXT}},
  grid:grids, xAxis:xAxes, yAxis:yAxes, series:series, graphic:graphic
});
</script></body></html>
